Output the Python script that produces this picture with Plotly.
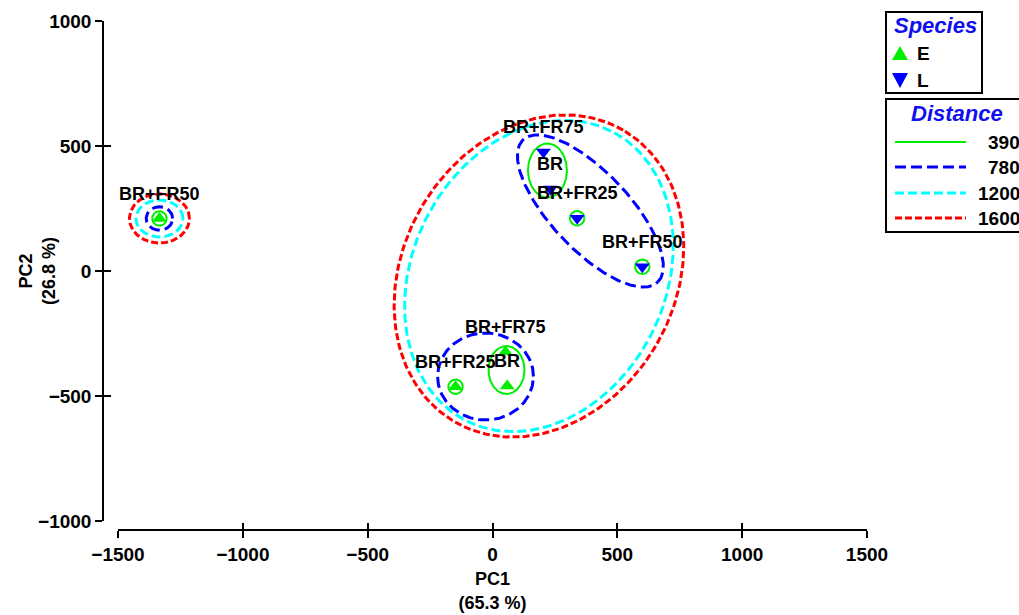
import numpy as np
import plotly.graph_objects as go

# ---------------- data ----------------
sample_species = ["E", "E", "E", "E", "L", "L", "L", "L"]
sample_labels = ["BR", "BR+FR25", "BR+FR50", "BR+FR75",
                 "BR", "BR+FR25", "BR+FR50", "BR+FR75"]
pc1 = [59, -148, -1334, 52, 232, 339, 600, 204]
pc2 = [-460, -463, 210, -324, 328, 211, 17, 476]

species_names = ["E", "L"]
species_colors = ["#00ee00", "#0000ff"]
species_symbols = ["triangle-up", "triangle-down"]

distance_levels = ["390", "780", "1200", "1600"]
distance_colors = ["#00ee00", "#0000ff", "#00ffff", "#ff0000"]
distance_dash = ["solid", "11px,5px", "9px,4px", "7px,3px"]
distance_width = [2, 3, 3, 3]

# cluster contours (ellipse approximations): level, centre, semi-axes, tilt (deg)
ell_level = ["390", "390", "390", "390", "390", "390",
             "780", "780", "780",
             "1200", "1200",
             "1600", "1600"]
ell_cx = [220, 339, 600, 56, -148, -1334,
          392, -28, -1334,
          186, -1334,
          186, -1334]
ell_cy = [402, 211, 17, -396, -463, 210,
          240, -422, 210,
          -20, 210,
          -20, 210]
ell_rx = [78, 29, 29, 72, 29, 29,
          392, 192, 53,
          648, 94,
          674, 120]
ell_ry = [108, 29, 29, 96, 29, 29,
          156, 174, 47,
          507, 74,
          545, 98]
ell_angle = [0, 0, 0, 0, 0, 0,
             -46.6, 0, 0,
             63.5, 0,
             60, 0]

x_ticks = [-1500, -1000, -500, 0, 500, 1000, 1500]
y_ticks = [-1000, -500, 0, 500, 1000]
x_title = "PC1<br>(65.3 %)"
y_title = "PC2<br>(26.8 %)"

# ---------------- layout geometry ----------------
W, H = 1019, 615
ML, MR, MT, MB = 103, 152, 21, 85
PW, PH = W - ML - MR, H - MT - MB


def px_x(px):
    return (px - ML) / PW


def px_y(py):
    return (H - MB - py) / PH


FONT = "Liberation Sans, Arial, sans-serif"

fig = go.Figure()

# contours
t = np.linspace(0, 2 * np.pi, 241)
for lev, col, dash, wid in zip(distance_levels, distance_colors, distance_dash, distance_width):
    xs, ys = [], []
    for L, cx, cy, rx, ry, ang in zip(ell_level, ell_cx, ell_cy, ell_rx, ell_ry, ell_angle):
        if L != lev:
            continue
        a = np.deg2rad(ang)
        ex = cx + rx * np.cos(t) * np.cos(a) - ry * np.sin(t) * np.sin(a)
        ey = cy + rx * np.cos(t) * np.sin(a) + ry * np.sin(t) * np.cos(a)
        xs += list(ex) + [None]
        ys += list(ey) + [None]
    fig.add_trace(go.Scatter(x=xs, y=ys, mode="lines", name=lev, showlegend=False,
                             line=dict(color=col, dash=dash, width=wid),
                             hoverinfo="skip"))

# sample points
for sp, col, sym in zip(species_names, species_colors, species_symbols):
    xs = [x for x, s in zip(pc1, sample_species) if s == sp]
    ys = [y for y, s in zip(pc2, sample_species) if s == sp]
    fig.add_trace(go.Scatter(x=xs, y=ys, mode="markers", name=sp, showlegend=False,
                             marker=dict(symbol=sym, color=col, size=13, line=dict(width=0))))

# dummy trace for overlay axes (inner half of ticks)
fig.add_trace(go.Scatter(x=[], y=[], xaxis="x2", yaxis="y2", showlegend=False))

annotations = []
for x, y, lab in zip(pc1, pc2, sample_labels):
    annotations.append(dict(x=x, y=y, xref="x", yref="y", text=lab, showarrow=False,
                            xanchor="center", yanchor="middle", yshift=25,
                            font=dict(family=FONT, size=18, color="black", weight="bold")))

# y axis title
annotations.append(dict(x=px_x(37), y=px_y(271), xref="paper", yref="paper", text=y_title,
                        showarrow=False, textangle=-90, xanchor="center", yanchor="middle",
                        font=dict(family=FONT, size=18, color="black", weight="bold")))

shapes = []
# ---- manual legend: Species ----
shapes.append(dict(type="rect", xref="paper", yref="paper",
                   x0=px_x(886), x1=px_x(982), y0=px_y(12), y1=px_y(93),
                   line=dict(color="black", width=2), fillcolor="white", layer="above"))
annotations.append(dict(x=px_x(935), y=px_y(25), xref="paper", yref="paper", text="<i>Species</i>",
                        showarrow=False, xanchor="center", yanchor="middle",
                        font=dict(family=FONT, size=22, color="#1010ee", weight="bold")))
leg_sp_y = [53, 80]
for sp, col, sym, yy in zip(species_names, species_colors, species_symbols, leg_sp_y):
    if sym == "triangle-up":
        pts = [(892, yy + 7), (908, yy + 7), (900, yy - 7)]
    else:
        pts = [(892, yy - 7), (908, yy - 7), (900, yy + 8)]
    path = "M{},{} L{},{} L{},{} Z".format(px_x(pts[0][0]), px_y(pts[0][1]),
                                            px_x(pts[1][0]), px_y(pts[1][1]),
                                            px_x(pts[2][0]), px_y(pts[2][1]))
    shapes.append(dict(type="path", xref="paper", yref="paper", path=path,
                       fillcolor=col, line=dict(width=0), layer="above"))
    annotations.append(dict(x=px_x(915), y=px_y(yy), xref="paper", yref="paper", text=sp,
                            xanchor="left", yanchor="middle", showarrow=False,
                            font=dict(family=FONT, size=19, color="black", weight="bold")))

# ---- manual legend: Distance ----
shapes.append(dict(type="rect", xref="paper", yref="paper",
                   x0=px_x(886), x1=px_x(1035), y0=px_y(99), y1=px_y(232),
                   line=dict(color="black", width=2), fillcolor="white", layer="above"))
annotations.append(dict(x=px_x(957), y=px_y(113), xref="paper", yref="paper", text="<i>Distance</i>",
                        showarrow=False, xanchor="center", yanchor="middle",
                        font=dict(family=FONT, size=22, color="#1010ee", weight="bold")))
leg_d_y = [142, 167, 193, 218]
for lev, col, dash, wid, yy in zip(distance_levels, distance_colors, distance_dash, distance_width, leg_d_y):
    shapes.append(dict(type="line", xref="paper", yref="paper",
                       x0=px_x(895), x1=px_x(966), y0=px_y(yy), y1=px_y(yy),
                       line=dict(color=col, width=wid, dash=dash), layer="above"))
    annotations.append(dict(x=px_x(1022), y=px_y(yy), xref="paper", yref="paper", text=lev,
                            xanchor="right", yanchor="middle", showarrow=False,
                            font=dict(family=FONT, size=19, color="black", weight="bold")))

axis_common = dict(showgrid=False, zeroline=False, linecolor="black", linewidth=1.5,
                   tickcolor="black", tickwidth=1.5, ticklen=7, automargin=False)

fig.update_layout(
    width=W, height=H,
    margin=dict(l=ML, r=MR, t=MT, b=MB, pad=0, autoexpand=False),
    paper_bgcolor="white", plot_bgcolor="white",
    showlegend=False,
    xaxis=dict(range=[-1500, 1500], domain=[15 / PW, 1], anchor="free", position=0,
               tickvals=x_ticks, ticks="outside", showline=True,
               tickfont=dict(family=FONT, size=19, color="black", weight="bold"),
               title=dict(text=x_title, standoff=8,
                          font=dict(family=FONT, size=18, color="black", weight="bold")),
               **axis_common),
    yaxis=dict(range=[-1000, 1000], domain=[9 / PH, 1], anchor="free", position=0,
               tickvals=y_ticks, ticks="outside", showline=True,
               tickfont=dict(family=FONT, size=19, color="black", weight="bold"),
               **axis_common),
    xaxis2=dict(range=[-1500, 1500], overlaying="x", anchor="free", position=0,
                tickvals=x_ticks, ticks="inside", showline=False, showticklabels=False,
                **axis_common),
    yaxis2=dict(range=[-1000, 1000], overlaying="y", anchor="free", position=0, side="left",
                tickvals=y_ticks, ticks="inside", showline=False, showticklabels=False,
                **axis_common),
    annotations=annotations,
    shapes=shapes,
)

fig.write_html("out.html")
